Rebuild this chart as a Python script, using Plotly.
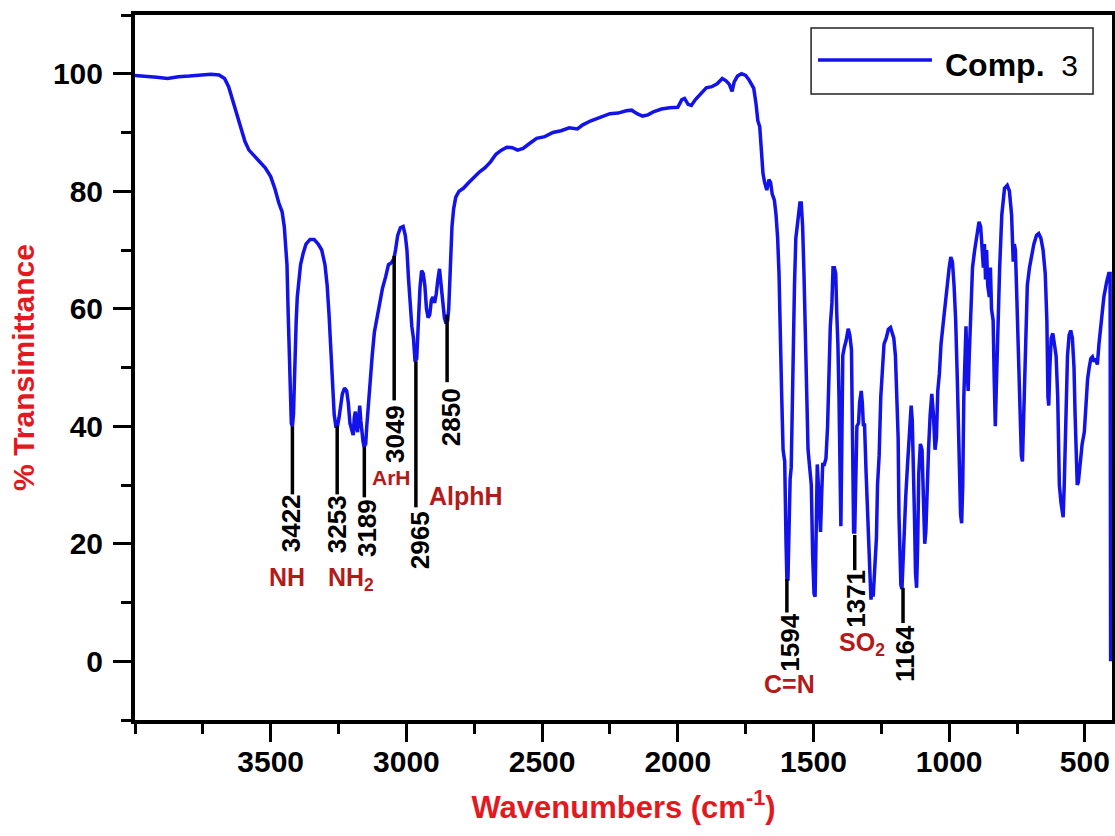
import plotly.graph_objects as go

# ---------------- data ----------------
wavenumber = [
    4000, 3960, 3920, 3880, 3840, 3800, 3760, 3720, 3690, 3670, 3655, 3640, 3625, 3610, 3595, 3580,
    3560, 3540, 3520, 3500, 3485, 3470, 3458, 3450, 3445, 3440, 3436, 3432, 3428, 3424, 3420, 3416,
    3413, 3410, 3406, 3402, 3396, 3390, 3380, 3370, 3355, 3340, 3325, 3312, 3300, 3292, 3285, 3278,
    3272, 3266, 3260, 3254, 3248, 3242, 3236, 3228, 3220, 3214, 3208, 3202, 3196, 3192, 3188, 3184,
    3180, 3176, 3172, 3168, 3164, 3160, 3156, 3150, 3146, 3140, 3134, 3126, 3118, 3108, 3098, 3088,
    3076, 3066, 3056, 3046, 3040, 3032, 3022, 3012, 3004, 2998, 2992, 2986, 2980, 2974, 2968, 2962,
    2958, 2954, 2950, 2944, 2938, 2932, 2926, 2920, 2914, 2908, 2902, 2896, 2890, 2884, 2878, 2872,
    2866, 2860, 2854, 2848, 2844, 2840, 2836, 2832, 2826, 2818, 2806, 2790, 2770, 2750, 2730, 2710,
    2690, 2670, 2650, 2630, 2610, 2590, 2570, 2550, 2520, 2490, 2460, 2430, 2400, 2370, 2350, 2320,
    2300, 2270, 2250, 2220, 2190, 2170, 2150, 2130, 2110, 2090, 2060, 2030, 2000, 1985, 1975, 1962,
    1950, 1935, 1915, 1895, 1875, 1855, 1836, 1822, 1810, 1800, 1792, 1780, 1765, 1750, 1738, 1728,
    1720, 1712, 1705, 1698, 1692, 1686, 1680, 1672, 1664, 1658, 1652, 1644, 1638, 1632, 1627, 1622,
    1617, 1612, 1606, 1601, 1598, 1594, 1590, 1586, 1582, 1578, 1574, 1570, 1565, 1560, 1555, 1550,
    1545, 1540, 1535, 1530, 1525, 1520, 1514, 1508, 1503, 1498, 1494, 1490, 1486, 1482, 1478, 1474,
    1470, 1466, 1460, 1454, 1448, 1444, 1438, 1432, 1428, 1423, 1418, 1414, 1410, 1406, 1402, 1399,
    1396, 1392, 1386, 1380, 1372, 1366, 1360, 1356, 1352, 1348, 1344, 1340, 1334, 1330, 1324, 1320,
    1316, 1312, 1306, 1300, 1296, 1292, 1288, 1284, 1280, 1276, 1272, 1268, 1264, 1258, 1252, 1246,
    1240, 1232, 1224, 1216, 1210, 1204, 1198, 1192, 1188, 1185, 1182, 1178, 1174, 1170, 1166, 1160,
    1154, 1148, 1143, 1140, 1136, 1132, 1128, 1124, 1120, 1116, 1112, 1106, 1100, 1095, 1090, 1086,
    1082, 1076, 1070, 1064, 1058, 1052, 1047, 1042, 1036, 1030, 1022, 1014, 1006, 1000, 994, 988,
    982, 976, 970, 964, 958, 954, 950, 946, 942, 938, 934, 930, 926, 920, 914, 906,
    898, 890, 884, 878, 874, 870, 866, 862, 858, 852, 848, 844, 838, 834, 830, 826,
    820, 814, 806, 796, 786, 778, 770, 764, 760, 756, 752, 746, 740, 734, 730, 724,
    718, 712, 704, 696, 688, 678, 670, 662, 654, 646, 640, 636, 633, 629, 624, 618,
    612, 606, 600, 594, 588, 584, 580, 576, 570, 564, 558, 552, 546, 540, 536, 532,
    528, 524, 518, 510, 502, 496, 490, 484, 478, 472, 466, 460, 454, 448, 440, 430,
    420, 412, 407, 405,
]
transmittance = [
    99.7, 99.6, 99.4, 99.2, 99.5, 99.6, 99.7, 99.9, 99.8, 99.2, 97.8, 95.5, 93.5, 91.0, 88.5, 87.0,
    86.0, 85.0, 84.0, 82.5, 80.5, 78.0, 76.5, 74.0, 70.0, 67.5, 60.0, 54.0, 45.0, 40.5, 40.0, 42.0,
    47.0, 54.0, 58.0, 62.0, 65.0, 67.5, 69.5, 71.0, 71.8, 71.8, 71.0, 70.0, 67.5, 64.0, 59.0, 53.0,
    47.0, 42.0, 40.0, 40.0, 41.5, 43.5, 45.5, 46.5, 46.0, 44.0, 40.5, 39.5, 38.5, 41.5, 42.5, 40.0,
    39.0, 41.0, 43.5, 41.0, 38.5, 37.5, 36.5, 37.0, 40.0, 44.0, 48.0, 52.0, 56.0, 58.5, 61.5, 63.5,
    65.5, 67.5, 67.8, 68.5, 70.0, 72.5, 73.8, 74.0, 72.5, 70.0, 65.0, 60.0, 57.0, 55.0, 51.0, 51.5,
    56.0, 61.0, 63.5, 66.5, 66.0, 64.0, 60.0, 58.5, 59.0, 61.5, 62.0, 61.0, 62.5, 65.0, 66.8, 64.0,
    61.0, 58.5, 57.5, 58.0, 60.0, 65.0, 70.0, 74.0, 77.0, 79.0, 80.0, 80.5, 81.5, 82.5, 83.3, 84.0,
    85.0, 86.3, 87.0, 87.5, 87.4, 87.0, 87.3, 88.0, 89.0, 89.3, 90.0, 90.3, 90.8, 90.6, 91.3, 92.0,
    92.3, 92.8, 93.2, 93.3, 93.7, 93.8, 93.2, 92.8, 93.0, 93.5, 94.0, 94.2, 94.3, 95.6, 95.8, 94.8,
    94.6, 95.6, 96.5, 97.6, 97.8, 98.3, 99.2, 98.8, 98.2, 97.0, 98.6, 99.6, 100.0, 99.7, 99.0, 98.0,
    97.5, 95.0, 92.0, 91.0, 86.0, 83.0, 81.5, 80.2, 82.0, 81.5, 79.5, 78.5, 76.0, 72.0, 66.0, 58.0,
    45.0, 36.0, 34.0, 20.0, 14.0, 14.0, 28.0, 31.0, 33.0, 47.0, 55.0, 64.0, 72.0, 74.0, 77.0, 78.0,
    78.0, 74.0, 66.0, 57.0, 46.0, 36.0, 33.0, 30.0, 18.0, 11.5, 11.0, 26.0, 33.5, 30.0, 26.0, 22.0,
    28.0, 33.5, 33.5, 34.5, 40.0, 50.0, 57.0, 61.0, 67.0, 67.0, 66.0, 59.0, 54.0, 45.0, 30.0, 23.0,
    35.0, 52.0, 53.5, 54.5, 56.6, 55.5, 53.0, 38.0, 22.0, 22.0, 33.0, 40.0, 40.5, 44.0, 46.0, 44.0,
    40.0, 40.5, 32.0, 26.0, 20.0, 15.0, 10.5, 13.0, 11.0, 15.0, 17.0, 21.0, 30.0, 35.0, 45.0, 49.0,
    54.0, 55.0, 56.5, 56.8, 56.0, 55.0, 52.0, 45.0, 38.0, 25.0, 20.0, 13.0, 12.3, 18.0, 22.0, 28.0,
    33.0, 38.0, 43.0, 43.5, 41.0, 35.0, 25.0, 15.0, 12.5, 20.0, 32.0, 37.0, 36.0, 28.0, 20.0, 22.0,
    30.0, 36.0, 42.0, 45.5, 42.0, 36.0, 38.0, 46.0, 49.0, 54.0, 57.5, 61.0, 65.0, 67.0, 68.8, 68.0,
    64.0, 58.0, 48.0, 35.0, 25.0, 23.5, 30.0, 45.0, 55.0, 57.0, 50.0, 46.0, 52.0, 60.0, 67.0, 70.0,
    73.0, 74.8, 74.0, 70.0, 67.0, 71.0, 65.0, 70.0, 64.0, 62.0, 67.0, 60.0, 58.0, 48.0, 40.0, 47.0,
    58.0, 67.0, 76.0, 80.5, 81.0, 80.0, 76.0, 68.0, 71.0, 70.0, 64.0, 55.0, 42.0, 35.0, 34.0, 45.0,
    58.0, 64.0, 67.0, 69.0, 71.0, 72.5, 72.8, 72.0, 70.0, 66.0, 58.0, 45.0, 43.5, 50.0, 55.0, 55.8,
    54.0, 52.0, 45.0, 30.0, 27.0, 25.0, 24.5, 30.0, 45.0, 52.0, 55.5, 56.3, 55.0, 50.0, 42.0, 33.0,
    30.0, 30.5, 34.0, 37.0, 39.0, 45.0, 48.0, 50.0, 51.5, 51.8, 51.0, 51.5, 50.5, 54.0, 58.0, 62.0,
    64.5, 66.0, 66.0, 0.0,
]

series_name = "Comp.3"

# peak markers: label text, wavenumber of the marker line, top and bottom of the line (% T)
peak_labels = ["3422", "3253", "3189", "3049", "2965", "2850", "1594", "1371", "1164"]
peak_wn = [3420, 3255, 3155, 3045, 2965, 2850, 1598, 1348, 1170]
peak_top = [40.0, 40.0, 36.5, 69.0, 51.0, 59.0, 14.0, 21.5, 12.5]
peak_bottom = [28.4, 28.4, 27.9, 44.4, 26.2, 47.5, 8.3, 15.5, 6.5]
peak_label_wn = [3427, 3258, 3143, 3040, 2950, 2838, 1588, 1344, 1163]
peak_label_t = [23.4, 23.4, 22.6, 38.6, 20.6, 41.6, 3.1, 10.6, 1.4]

# functional-group labels
group_labels = ["NH", "NH<sub>2</sub>", "ArH", "AlphH", "C=N", "SO<sub>2</sub>"]
group_wn = [3440, 3205, 3055, 2780, 1588, 1322]
group_t = [14.4, 14.0, 31.2, 28.2, -3.8, 3.0]
group_size = [25, 25, 21, 25, 25, 25]

x_tick_vals = [500, 1000, 1500, 2000, 2500, 3000, 3500]
y_tick_vals = [0, 20, 40, 60, 80, 100]

# ---------------- figure ----------------
BLUE = "rgb(18,18,235)"
RED_TITLE = "#e3191f"
RED_LABEL = "#b51a1a"
FONT = "Liberation Sans, Arial, sans-serif"

fig = go.Figure()
fig.add_trace(go.Scatter(
    x=wavenumber, y=transmittance, mode="lines", name=series_name,
    line=dict(color=BLUE, width=3.5), showlegend=False,
))

for wn, top, bot in zip(peak_wn, peak_top, peak_bottom):
    fig.add_shape(type="line", xref="x", yref="y", x0=wn, x1=wn, y0=top, y1=bot,
                  line=dict(color="black", width=3.5))

for lab, wn, t in zip(peak_labels, peak_label_wn, peak_label_t):
    fig.add_annotation(x=wn, y=t, xref="x", yref="y", text="<b>%s</b>" % lab, textangle=-90,
                       showarrow=False, xanchor="center", yanchor="middle",
                       font=dict(family=FONT, size=26, color="black"))

for lab, wn, t, sz in zip(group_labels, group_wn, group_t, group_size):
    fig.add_annotation(x=wn, y=t, xref="x", yref="y", text="<b>%s</b>" % lab,
                       showarrow=False, xanchor="center", yanchor="middle",
                       font=dict(family=FONT, size=sz, color=RED_LABEL))

# legend drawn as a boxed sample line + text
fig.add_shape(type="rect", xref="paper", yref="paper", x0=0.692, x1=0.9806, y0=0.888, y1=0.9816,
              line=dict(color="#222222", width=1.5), fillcolor="white", layer="above")
fig.add_shape(type="line", xref="paper", yref="paper", x0=0.6991, x1=0.8157, y0=0.936, y1=0.936,
              line=dict(color=BLUE, width=3.5))
fig.add_annotation(xref="paper", yref="paper", x=0.827, y=0.929, xanchor="left", yanchor="middle",
                   text="<b>Comp.</b><span style='font-size:30px'>&nbsp;&nbsp;3</span>", showarrow=False,
                   font=dict(family=FONT, size=32, color="black"))

axis_common = dict(
    showline=True, linewidth=4, linecolor="black", mirror=True,
    ticks="outside", ticklen=18, tickwidth=3, tickcolor="black",
    showgrid=False, zeroline=False,
    tickfont=dict(family=FONT, size=30, color="black", weight="bold"),
)

fig.update_xaxes(
    range=[4000, 400], tickvals=x_tick_vals,
    minor=dict(dtick=250, tick0=0, ticks="outside", ticklen=10, tickwidth=3, tickcolor="black"),
    title=dict(text="<b>Wavenumbers (cm<sup>-1</sup>)</b>", standoff=20,
               font=dict(family=FONT, size=31, color=RED_TITLE)),
    ticklabelstandoff=-6,
    **axis_common,
)
fig.update_yaxes(
    range=[-10, 110], tickvals=y_tick_vals,
    minor=dict(dtick=10, tick0=0, ticks="outside", ticklen=10, tickwidth=3, tickcolor="black"),
    title=dict(text="<b>% Transimittance</b>", standoff=10,
               font=dict(family=FONT, size=30, color=RED_TITLE)),
    ticklabelstandoff=4,
    **axis_common,
)

fig.update_layout(
    width=1115, height=836,
    margin=dict(l=135, r=3, t=15, b=116, autoexpand=False),
    paper_bgcolor="white", plot_bgcolor="white",
    font=dict(family=FONT),
)

fig.write_html("out.html", config={"displayModeBar": False},
               post_script="document.body.style.margin='0px';")
